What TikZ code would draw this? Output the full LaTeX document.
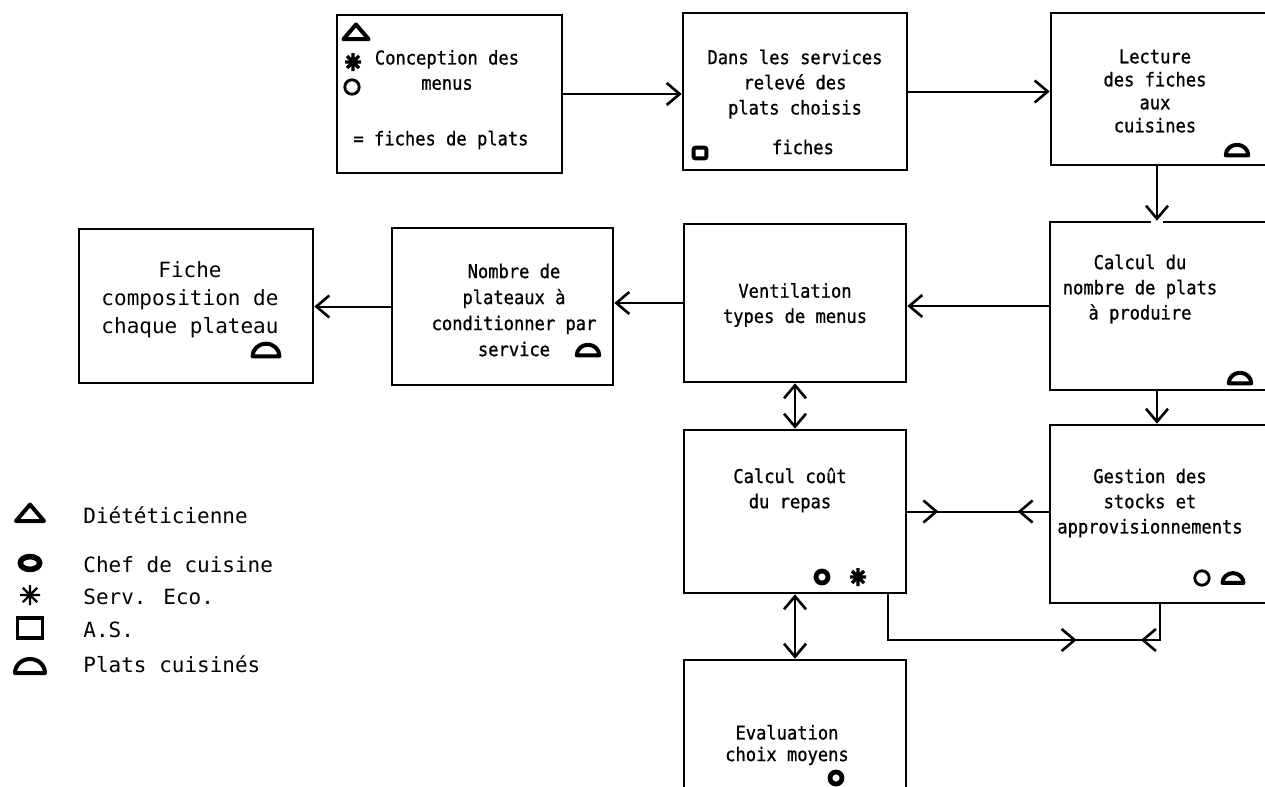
\documentclass[tikz,border=0pt]{standalone}
\usepackage{fontspec}
\setmainfont{DejaVu Sans Mono}
\newfontfamily\boxfont[FakeStretch=0.9,FakeBold=0.8]{DejaVu Sans Mono}
\usetikzlibrary{arrows.meta,decorations.markings}

\tikzset{
  box/.style={draw, line width=1.3pt, inner sep=0pt},
  txt/.style={font=\boxfont\fontsize{9.5}{12.6}\selectfont, align=center, inner sep=0pt},
  ltxt/.style={font=\fontsize{10.5}{14}\selectfont, align=center, inner sep=0pt},
  conn/.style={line width=1pt},
  >={Straight Barb[length=6.5pt,width=11pt,line width=1.3pt]},
  midarrows/.style 2 args={postaction={decorate, decoration={markings,
      mark=at position #1 with {\arrow{>}},
      mark=at position #2 with {\arrowreversed{>}}}}},
  % role symbols
  tri/.pic={\draw[line width=2pt, line join=round] (-7pt,-4pt) -- (7pt,-4pt) -- (0,4.2pt) -- cycle;},
  chef/.pic={\draw[line width=2.8pt] (0,0) ellipse [x radius=4.8pt, y radius=3.2pt];},
  bring/.pic={\draw[line width=2.4pt] (0,0) circle [radius=3pt];},
  ring/.pic={\draw[line width=1.4pt] (0,0) circle [radius=3.6pt];},
  eco/.pic={\draw[line width=1.1pt] (-5pt,0)--(5pt,0) (0,-5pt)--(0,5pt)
      (-3.6pt,-3.6pt)--(3.6pt,3.6pt) (-3.6pt,3.6pt)--(3.6pt,-3.6pt);},
  beco/.pic={\draw[line width=1.6pt] (-4pt,0)--(4pt,0) (0,-4.5pt)--(0,4.5pt)
      (-3pt,-3pt)--(3pt,3pt) (-3pt,3pt)--(3pt,-3pt);},
  as/.pic={\draw[line width=1.6pt] (-6.2pt,-5pt) rectangle (6.2pt,5pt);},
  bas/.pic={\draw[line width=2pt, rounded corners=1pt] (-3.2pt,-2.7pt) rectangle (3.2pt,2.7pt);},
  dome/.pic={\draw[line width=2pt, line join=round] (-7.5pt,-3.5pt)
      arc[start angle=180, end angle=0, x radius=7.5pt, y radius=7pt] -- cycle;},
}

\begin{document}
\begin{tikzpicture}[x=0.5pt,y=-0.5pt]
\useasboundingbox (0,0) rectangle (1265,787);

% process boxes
\node[box, minimum width=112.5pt, minimum height=79pt] (A) at (449.5,94) {};
\node[box, minimum width=112pt,   minimum height=78.5pt] (B) at (795,91.5) {};
\node[box, minimum width=110.5pt, minimum height=76pt] (C) at (1161.5,89) {};
\node[box, minimum width=111pt,   minimum height=84pt] (D) at (1161,306) {};
\node[box, minimum width=111pt,   minimum height=79pt] (V) at (795,303) {};
\node[box, minimum width=110.5pt, minimum height=78.5pt] (N) at (502.5,306.5) {};
\node[box, minimum width=117pt,   minimum height=77pt] (F) at (196,306) {};
\node[box, minimum width=111pt,   minimum height=81.5pt] (K) at (795,511.5) {};
\node[box, minimum width=111pt,   minimum height=89pt] (G) at (1161,514) {};
\node[box, minimum width=111pt,   minimum height=70pt] (E) at (795,730) {};

% box texts
\node[txt] (Atxt) at (447,70) {Conception des\\menus};
\node[txt] (Afic) at (441,140) {= fiches de plats};
\node[txt] (Btxt) at (795,84) {Dans les services\\relevé des\\plats choisis};
\node[txt] (Bfic) at (803,147) {fiches};
\node[txt, font=\boxfont\fontsize{9.5}{11.5}\selectfont] (Ctxt) at (1155,91) {Lecture\\des fiches\\aux\\cuisines};
\node[txt] (Dtxt) at (1140,289) {Calcul du\\nombre de plats\\à produire};
\node[txt] (Vtxt) at (795,305) {Ventilation\\types de menus};
\node[txt, font=\boxfont\fontsize{9.5}{13}\selectfont] (Ntxt) at (514,310) {Nombre de\\plateaux à\\conditionner par\\service};
\node[ltxt] (Ftxt) at (190,300) {Fiche\\composition de\\chaque plateau};
\node[txt] (Ktxt) at (790,490) {Calcul coût\\du repas};
\node[txt] (Gtxt) at (1150,503) {Gestion des\\stocks et\\approvisionnements};
\node[txt, font=\boxfont\fontsize{9.5}{10.8}\selectfont] (Etxt) at (787,745) {Evaluation\\choix moyens};

% role symbols inside boxes
\pic[scale=0.9] at (356,32) {tri};
\pic at (353,62) {beco};
\pic at (352,87) {ring};
\pic at (700,153) {bas};
\pic[scale=0.75] at (1237,150) {dome};
\pic[scale=0.75] at (1240,378) {dome};
\pic[scale=0.75] at (588,350) {dome};
\pic[scale=0.9] at (266,350) {dome};
\pic at (822,577) {bring};
\pic at (858,577) {beco};
\pic at (1202,578) {ring};
\pic[scale=0.7] at (1233,578) {dome};
\pic at (836,778) {bring};

% connectors
\coordinate (cd) at (1157,0);
\coordinate (kb) at (888,0);
\coordinate (gb) at (1160,0);
\coordinate (low) at (0,640);

\draw[conn,->] (A.east) -- (A.east -| B.west);
\draw[conn,->] (B.east) -- (B.east -| C.west);
\draw[white, line width=3pt] ([xshift=-3pt]D.north -| cd) -- ([xshift=3pt]D.north -| cd);
\draw[conn,->] (C.south -| cd) -- (D.north -| cd);
\draw[conn,->] (D.west) -- (D.west -| V.east);
\draw[conn,->] (V.west) -- (V.west -| N.east);
\draw[conn,->] (N.west) -- (N.west -| F.east);
\draw[conn,->] (D.south -| cd) -- (G.north -| cd);
\draw[conn,<->] (V.south) -- (K.north);
\draw[conn,<->] (K.south) -- (E.north);
\draw[conn, midarrows={0.22}{0.78}] (K.east) -- (K.east -| G.west);
\draw[conn, midarrows={0.663}{0.845}] (K.south -| kb) -- (kb |- low) -- (gb |- low) -- (G.south -| gb);

% legend
\pic at (30,513) {tri};
\pic at (30,563) {chef};
\pic at (30,595) {eco};
\pic at (30,628) {as};
\pic at (30,666) {dome};
\node[ltxt, anchor=west] (L1) at (83,515) {Diététicienne};
\node[ltxt, anchor=west] (L2) at (83,565) {Chef de cuisine};
\node[ltxt, anchor=west] (L3) at (83,597) {Serv. Eco.};
\node[ltxt, anchor=west] (L4) at (83,630) {A.S.};
\node[ltxt, anchor=west] (L5) at (83,664) {Plats cuisinés};
\end{tikzpicture}
\end{document}
